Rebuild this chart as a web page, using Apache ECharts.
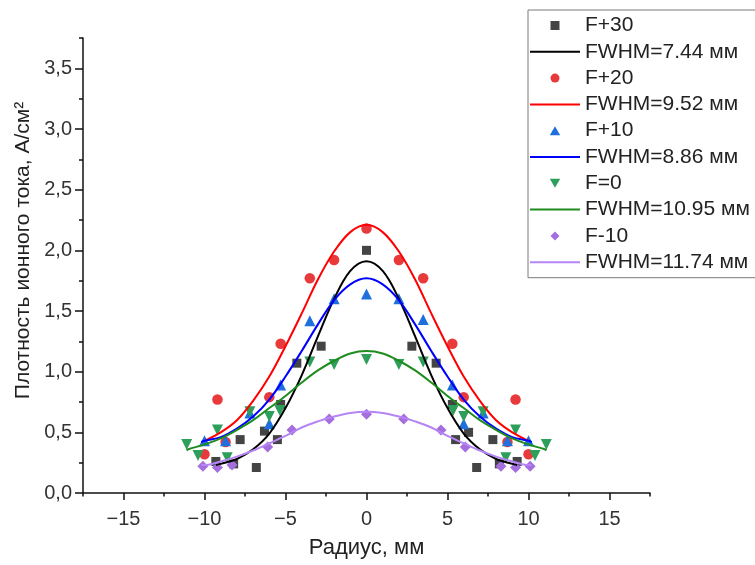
<!DOCTYPE html>
<html>
<head>
<meta charset="utf-8">
<script src="https://cdn.jsdelivr.net/npm/echarts@6/dist/echarts.min.js"></script>
<style>html,body{margin:0;padding:0;background:#fff}#c{width:755px;height:565px}</style>
</head>
<body>
<div id="c"></div>
<script>
// ---- data ----
const xMajorTicks = [-15, -10, -5, 0, 5, 10, 15];
const xMinorTicks = [-17.5, -12.5, -7.5, -2.5, 2.5, 7.5, 12.5, 17.5];
const yMajorTicks = [0, 0.5, 1.0, 1.5, 2.0, 2.5, 3.0, 3.5];
const yMinorTicks = [0.25, 0.75, 1.25, 1.75, 2.25, 2.75, 3.25, 3.75];

const scatterNames = ['F+30', 'F+20', 'F+10', 'F=0', 'F-10'];
const lineNames = ['FWHM=7.44 мм', 'FWHM=9.52 мм', 'FWHM=8.86 мм', 'FWHM=10.95 мм', 'FWHM=11.74 мм'];

// F+30
const f30X = [-9.3, -8.2, -7.8, -6.8, -6.3, -5.5, -5.3, -4.3, -2.8, 0, 2.8, 4.3, 5.3, 5.5, 6.3, 6.8, 7.8, 8.2, 9.3];
const f30Y = [0.26, 0.24, 0.44, 0.21, 0.51, 0.44, 0.73, 1.07, 1.21, 2.00, 1.21, 1.07, 0.73, 0.44, 0.50, 0.21, 0.44, 0.24, 0.26];
// F+20
const f20X = [-10.0, -9.2, -8.7, -6.0, -5.3, -3.5, -2.0, 0, 2.0, 3.5, 5.3, 6.0, 8.7, 9.2, 10.0];
const f20Y = [0.32, 0.77, 0.42, 0.79, 1.23, 1.77, 1.92, 2.18, 1.92, 1.77, 1.23, 0.79, 0.42, 0.77, 0.32];
// F+10
const f10X = [-10.0, -8.7, -7.2, -6.0, -5.3, -3.5, -2.0, 0, 2.0, 3.5, 5.3, 6.0, 7.2, 8.7, 10.0];
const f10Y = [0.43, 0.43, 0.66, 0.57, 0.89, 1.42, 1.60, 1.64, 1.60, 1.43, 0.89, 0.57, 0.66, 0.43, 0.43];
// F=0
const f0X = [-11.1, -10.4, -9.2, -8.6, -7.2, -6.0, -5.35, -3.5, -2.0, 0, 2.0, 3.5, 5.35, 6.0, 7.2, 8.6, 9.2, 10.4, 11.1];
const f0Y = [0.40, 0.31, 0.52, 0.29, 0.67, 0.63, 0.68, 1.08, 1.06, 1.10, 1.06, 1.08, 0.68, 0.63, 0.67, 0.29, 0.52, 0.31, 0.40];
// F-10
const fm10X = [-10.1, -9.2, -8.3, -6.1, -4.6, -2.3, 0, 2.3, 4.6, 6.1, 8.3, 9.2, 10.1];
const fm10Y = [0.22, 0.21, 0.23, 0.38, 0.52, 0.61, 0.65, 0.61, 0.52, 0.38, 0.22, 0.21, 0.22];

// fitted curves, read as points along each drawn line
const fit30X = [-9.3, -9, -8, -7, -6, -5, -4, -3, -2, -1, 0, 1, 2, 3, 4, 5, 6, 7, 8, 9, 9.3];
const fit30Y = [0.23, 0.24, 0.28, 0.36, 0.49, 0.70, 0.97, 1.29, 1.60, 1.83, 1.91, 1.83, 1.60, 1.29, 0.97, 0.70, 0.49, 0.36, 0.28, 0.24, 0.23];
const fit20X = [-10, -9, -8, -7, -6, -5, -4, -3, -2, -1, 0, 1, 2, 3, 4, 5, 6, 7, 8, 9, 10];
const fit20Y = [0.43, 0.50, 0.60, 0.76, 0.96, 1.21, 1.48, 1.76, 1.99, 2.15, 2.21, 2.15, 1.99, 1.76, 1.48, 1.21, 0.96, 0.76, 0.60, 0.50, 0.43];
const fit10X = [-10.2, -10, -9, -8, -7, -6, -5, -4, -3, -2, -1, 0, 1, 2, 3, 4, 5, 6, 7, 8, 9, 10, 10.2];
const fit10Y = [0.42, 0.43, 0.46, 0.53, 0.63, 0.77, 0.96, 1.17, 1.39, 1.59, 1.72, 1.77, 1.72, 1.59, 1.39, 1.17, 0.96, 0.77, 0.63, 0.53, 0.46, 0.43, 0.42];
const fit0X = [-11.1, -11, -10, -9, -8, -7, -6, -5, -4, -3, -2, -1, 0, 1, 2, 3, 4, 5, 6, 7, 8, 9, 10, 11, 11.1];
const fit0Y = [0.35, 0.36, 0.40, 0.45, 0.52, 0.60, 0.70, 0.80, 0.91, 1.01, 1.09, 1.15, 1.17, 1.15, 1.09, 1.01, 0.91, 0.80, 0.70, 0.60, 0.52, 0.45, 0.40, 0.36, 0.35];
const fitm10X = [-10.2, -10, -9, -8, -7, -6, -5, -4, -3, -2, -1, 0, 1, 2, 3, 4, 5, 6, 7, 8, 9, 10, 10.2];
const fitm10Y = [0.23, 0.23, 0.26, 0.30, 0.35, 0.41, 0.47, 0.54, 0.59, 0.63, 0.66, 0.67, 0.66, 0.63, 0.59, 0.54, 0.47, 0.41, 0.35, 0.30, 0.26, 0.23, 0.23];

const zip = (xs, ys) => xs.map((x, i) => [x, ys[i]]);

const downTri = 'path://M0,0 L10,0 L5,8.66 Z';
const upTri = 'path://M5,0 L10,8.66 L0,8.66 Z';
const squareP = 'path://M0,0 H10 V10 H0 Z';
const diamondP = 'path://M5,0 L10,5 L5,10 L0,5 Z';
const lineIcon = 'path://M0,0 H50 V2 H0 Z';

function scat(name, xs, ys, symbol, size, color) {
  return { name, type: 'scatter', xAxisIndex: 0, yAxisIndex: 0, data: zip(xs, ys),
    symbol, symbolSize: size, itemStyle: { color, opacity: 1 }, z: 3 };
}
function fit(name, xs, ys, color) {
  return { name, type: 'line', xAxisIndex: 0, yAxisIndex: 0, data: zip(xs, ys),
    smooth: 0.35, symbol: 'none', showSymbol: false,
    lineStyle: { color, width: 2 }, itemStyle: { color }, z: 4 };
}

const chart = echarts.init(document.getElementById('c'), null, { renderer: 'canvas' });
const fontFam = 'Liberation Sans, Arial, sans-serif';
const grid = { left: 83, right: 105, top: 38, bottom: 72 };

const option = {
  animation: false,
  backgroundColor: '#fff',
  grid: [grid],
  xAxis: [
    { type: 'value', min: -17.5, max: 17.5, gridIndex: 0,
      name: 'Радиус, мм', nameLocation: 'middle', nameGap: 44,
      nameTextStyle: { fontSize: 22, color: '#222', fontFamily: fontFam },
      axisLine: { show: true, onZero: false, lineStyle: { color: '#111', width: 1.5 } },
      axisTick: { show: true, inside: false, length: 7, customValues: xMajorTicks, lineStyle: { color: '#111', width: 1.5 } },
      axisLabel: { show: true, customValues: xMajorTicks, margin: 16, fontSize: 20, color: '#333', fontFamily: fontFam,
        formatter: v => (v < 0 ? '\u2212' + Math.abs(v) : String(v)) },
      splitLine: { show: false } },
    { type: 'value', min: -17.5, max: 17.5, gridIndex: 0, position: 'bottom',
      axisLine: { show: false, onZero: false },
      axisTick: { show: true, length: 3.5, customValues: xMinorTicks, lineStyle: { color: '#111', width: 1.5 } },
      axisLabel: { show: false }, splitLine: { show: false } }
  ],
  yAxis: [
    { type: 'value', min: 0, max: 3.75, gridIndex: 0,
      name: 'Плотность ионного тока, А/см²', nameLocation: 'middle', nameGap: 48,
      nameTextStyle: { fontSize: 21, color: '#222', fontFamily: fontFam, padding: [0, 0, 0, 30] },
      axisLine: { show: true, onZero: false, lineStyle: { color: '#111', width: 1.5 } },
      axisTick: { show: true, inside: false, length: 8, customValues: yMajorTicks, lineStyle: { color: '#111', width: 1.5 } },
      axisLabel: { show: true, customValues: yMajorTicks, margin: 11, fontSize: 20, color: '#333', fontFamily: fontFam,
        formatter: v => v.toFixed(1).replace('.', ',') },
      splitLine: { show: false } },
    { type: 'value', min: 0, max: 3.75, gridIndex: 0, position: 'left',
      axisLine: { show: false, onZero: false },
      axisTick: { show: true, length: 4, customValues: yMinorTicks, lineStyle: { color: '#111', width: 1.5 } },
      axisLabel: { show: false }, splitLine: { show: false } }
  ],
  legend: {
    show: true, orient: 'vertical', left: 528, top: 10,
    padding: [5, 12, 5, 2], itemGap: 5.3, itemWidth: 50, itemHeight: 9,
    symbolKeepAspect: true,
    backgroundColor: '#fff', borderColor: '#7a7a7a', borderWidth: 1,
    textStyle: { fontSize: 21, lineHeight: 21, color: '#222', fontFamily: fontFam },
    data: [
      { name: scatterNames[0], icon: squareP },
      { name: lineNames[0], icon: lineIcon },
      { name: scatterNames[1], icon: 'circle' },
      { name: lineNames[1], icon: lineIcon },
      { name: scatterNames[2], icon: upTri },
      { name: lineNames[2], icon: lineIcon },
      { name: scatterNames[3], icon: downTri },
      { name: lineNames[3], icon: lineIcon },
      { name: scatterNames[4], icon: diamondP },
      { name: lineNames[4], icon: lineIcon }
    ]
  },
  series: [
    scat(scatterNames[0], f30X, f30Y, 'rect', 9, '#444444'),
    fit(lineNames[0], fit30X, fit30Y, '#000000'),
    scat(scatterNames[1], f20X, f20Y, 'circle', 10.5, '#e8393b'),
    fit(lineNames[1], fit20X, fit20Y, '#ff0000'),
    scat(scatterNames[2], f10X, f10Y, upTri, 11, '#1f6fdc'),
    fit(lineNames[2], fit10X, fit10Y, '#0000ff'),
    scat(scatterNames[3], f0X, f0Y, downTri, 11, '#2e9e5b'),
    fit(lineNames[3], fit0X, fit0Y, '#1e8c1e'),
    scat(scatterNames[4], fm10X, fm10Y, 'diamond', 11, '#a46ede'),
    fit(lineNames[4], fitm10X, fitm10Y, '#b585f5')
  ]
};
chart.setOption(option);
</script>
</body>
</html>
